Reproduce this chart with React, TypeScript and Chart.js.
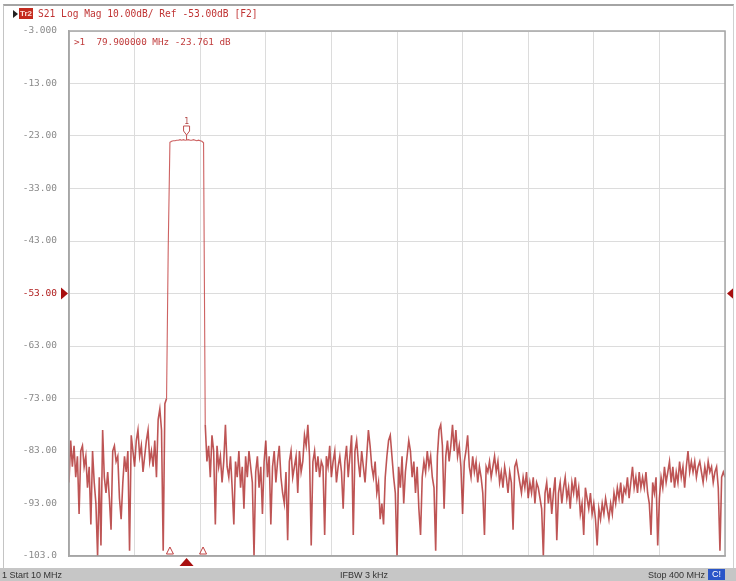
import React, { useEffect, useRef } from "react";
import { Chart, registerables } from "chart.js";

Chart.register(...registerables);

// Sweep definition (MHz)
const START_MHZ = 10;
const STOP_MHZ = 400;
const STEP_MHZ = 1;
const X_DIV_MHZ = 39;

// Y scale (dB)
const Y_TOP_DB = -3;
const Y_BOTTOM_DB = -103;
const Y_DIV_DB = 10;
const REF_LEVEL_DB = -53;

// Marker
const MARKER_MHZ = 79.9;
const MARKER_DB = -23.761;
const BAND_EDGES_MHZ = [70, 89.7];

// S21 trace, 10..68 MHz (stopband below)
const LOW_STOP_DB = [
  -89, -81, -86, -82, -88, -84, -95, -83, -82, -86,
  -84, -90, -86, -97, -83, -89, -93, -103, -88, -101,
  -79, -88, -91, -87, -92, -98, -83, -82, -85, -84,
  -92, -96, -89, -84, -87, -83, -102, -80, -83, -86,
  -81, -79, -84, -82, -87, -84, -81, -79, -85, -83,
  -86, -81, -88, -77, -75, -79, -102, -74, -73,
];

// 69..90 MHz (passband)
const PASS_DB = [
  -44, -24.2, -24.0, -23.9, -23.9, -23.8, -23.8, -23.7, -23.8, -23.7, -23.8,
  -23.76, -23.7, -23.8, -23.8, -23.7, -23.8, -23.9, -23.8, -23.9, -24.0, -24.3,
];

// 91..400 MHz (stopband above)
const HIGH_STOP_DB = [
  -78, -85, -82, -88, -80, -83, -97, -82, -86, -84,
  -89, -85, -78, -86, -88, -84, -90, -97, -85, -88,
  -83, -90, -86, -94, -84, -88, -83, -86, -89, -103,
  -87, -84, -90, -86, -95, -85, -81, -88, -84, -97,
  -86, -83, -89, -85, -82, -88, -91, -93, -87, -100,
  -85, -83, -88, -86, -84, -91, -83, -87, -85, -80,
  -82, -78, -84, -101, -85, -83, -87, -84, -88, -85,
  -86, -99, -84, -86, -82, -88, -85, -83, -89, -86,
  -84, -87, -94, -85, -82, -88, -84, -80, -99, -83,
  -81, -85, -88, -83, -86, -89, -84, -79, -82, -86,
  -88, -85, -91, -89, -96, -93, -97, -88, -84, -81,
  -80, -84, -88, -91, -103, -86, -90, -84, -93, -87,
  -84, -81, -83, -88, -85, -91, -86, -94, -99, -88,
  -85, -87, -83, -86, -84, -88, -90, -102, -84, -79,
  -78, -82, -94, -84, -81, -85, -82, -78, -83, -79,
  -84, -82, -86, -95, -85, -83, -80, -86, -88, -84,
  -87, -85, -89, -86, -88, -91, -99, -86, -87, -85,
  -88, -86, -84, -87, -85, -89, -87, -90, -86, -88,
  -91, -87, -89, -98, -86, -85, -87, -89, -91, -88,
  -90, -87, -92, -89, -91, -88, -93, -89, -90, -92,
  -94, -103, -91, -89, -93, -90, -95, -91, -88, -100,
  -91, -89, -93, -90, -88, -92, -90, -94, -89, -91,
  -88, -92, -90, -95, -93, -99, -90, -92, -94, -91,
  -95, -93, -96, -101, -94, -96, -93, -95, -92, -94,
  -96, -93, -95, -91, -93, -90, -92, -89, -93, -90,
  -91, -88, -92, -89, -86, -90, -88, -91, -87, -90,
  -88, -90, -87, -91, -93, -99, -89, -91, -88, -101,
  -92, -88, -90, -86, -89, -87, -85, -89, -86, -90,
  -87, -89, -85, -88, -86, -90, -86, -83, -87, -85,
  -87, -85, -88, -86, -85, -87, -89, -86, -88, -85,
  -87, -86, -89, -87, -86, -90, -102, -88, -87, -88,
];

const TRACE_DB = [...LOW_STOP_DB, ...PASS_DB, ...HIGH_STOP_DB];

const MONO = "'DejaVu Sans Mono', monospace";
const SANS = "'Liberation Sans', Arial, sans-serif";

const overlayPlugin = {
  id: "vnaOverlay",
  afterDatasetsDraw(chart: any) {
    const { ctx, chartArea: a, scales } = chart;
    const x = scales.x;
    const y = scales.y;
    ctx.save();
    // plot frame
    ctx.strokeStyle = "#a6a6a6";
    ctx.lineWidth = 1.5;
    ctx.strokeRect(a.left, a.top, a.right - a.left, a.bottom - a.top);

    // reference level triangles
    const ry = y.getPixelForValue(REF_LEVEL_DB);
    ctx.fillStyle = "#a80f0f";
    ctx.beginPath();
    ctx.moveTo(a.left - 8, ry - 6);
    ctx.lineTo(a.left - 8, ry + 6);
    ctx.lineTo(a.left - 1, ry);
    ctx.closePath();
    ctx.fill();
    ctx.beginPath();
    ctx.moveTo(a.right + 9, ry - 6);
    ctx.lineTo(a.right + 9, ry + 6);
    ctx.lineTo(a.right + 2, ry);
    ctx.closePath();
    ctx.fill();

    // marker position triangle below axis
    const mx = x.getPixelForValue(MARKER_MHZ);
    ctx.beginPath();
    ctx.moveTo(mx - 7, a.bottom + 10);
    ctx.lineTo(mx + 7, a.bottom + 10);
    ctx.lineTo(mx, a.bottom + 2);
    ctx.closePath();
    ctx.fill();

    // band edge open triangles
    ctx.strokeStyle = "#c04040";
    ctx.lineWidth = 1;
    for (const f of BAND_EDGES_MHZ) {
      const bx = x.getPixelForValue(f);
      ctx.beginPath();
      ctx.moveTo(bx - 3.5, a.bottom - 2);
      ctx.lineTo(bx + 3.5, a.bottom - 2);
      ctx.lineTo(bx, a.bottom - 9);
      ctx.closePath();
      ctx.stroke();
    }

    // marker 1 symbol above the trace
    const my = y.getPixelForValue(MARKER_DB);
    ctx.strokeStyle = "#c05050";
    ctx.beginPath();
    ctx.moveTo(mx - 3, my - 14);
    ctx.lineTo(mx + 3, my - 14);
    ctx.lineTo(mx + 3, my - 9);
    ctx.lineTo(mx, my - 5);
    ctx.lineTo(mx - 3, my - 9);
    ctx.closePath();
    ctx.stroke();
    ctx.beginPath();
    ctx.moveTo(mx, my - 5);
    ctx.lineTo(mx, my);
    ctx.stroke();
    ctx.fillStyle = "#b04040";
    ctx.font = `8px ${MONO}`;
    ctx.textAlign = "center";
    ctx.textBaseline = "middle";
    ctx.fillText("1", mx, my - 18);
    ctx.restore();
  },
};

const isPassSegment = (c: any) =>
  c.p0 && c.p1 && (c.p0.parsed.y > -60 || c.p1.parsed.y > -60);

export default function App() {
  const canvasRef = useRef<HTMLCanvasElement | null>(null);

  useEffect(() => {
    const canvas = canvasRef.current;
    if (!canvas) return;
    const points = TRACE_DB.map((db, i) => ({ x: START_MHZ + i * STEP_MHZ, y: db }));
    const chart = new Chart(canvas, {
      type: "line",
      data: {
        datasets: [
          {
            data: points,
            borderColor: "rgba(168, 28, 28, 0.75)",
            borderWidth: 1.6,
            pointRadius: 0,
            tension: 0,
            fill: false,
            segment: {
              borderWidth: (c: any) => (isPassSegment(c) ? 1.1 : undefined),
              borderColor: (c: any) => (isPassSegment(c) ? "rgba(196, 70, 70, 0.85)" : undefined),
            },
          },
        ],
      },
      options: {
        responsive: false,
        animation: false,
        events: [],
        layout: { padding: { left: 0, right: 11, top: 31, bottom: 25 } },
        plugins: { legend: { display: false }, tooltip: { enabled: false } },
        scales: {
          x: {
            type: "linear",
            min: START_MHZ,
            max: STOP_MHZ,
            ticks: { display: false, stepSize: X_DIV_MHZ },
            grid: { color: "#dcdcdc", drawTicks: false, tickLength: 0, lineWidth: 1 },
            border: { display: true, color: "#a6a6a6", width: 1.5 },
            afterFit: (s: any) => {
              s.height = 0;
            },
          },
          y: {
            type: "linear",
            min: Y_BOTTOM_DB,
            max: Y_TOP_DB,
            ticks: {
              stepSize: Y_DIV_DB,
              padding: 12,
              color: (c: any) => (c.tick && c.tick.value === REF_LEVEL_DB ? "#b02020" : "#8a8a8a"),
              font: { family: MONO, size: 9.5 },
              callback: (v: any) => Number(v).toPrecision(4),
            },
            grid: { color: "#dcdcdc", drawTicks: false, tickLength: 0, lineWidth: 1 },
            border: { display: true, color: "#a6a6a6", width: 1.5 },
            afterFit: (s: any) => {
              s.width = 69;
            },
          },
        },
      },
      plugins: [overlayPlugin],
    } as any);
    return () => chart.destroy();
  }, []);

  return (
    <div
      style={{
        position: "absolute",
        left: 0,
        top: 0,
        width: 736,
        height: 581,
        background: "#ffffff",
        overflow: "hidden",
      }}
    >
      <canvas
        ref={canvasRef}
        width={736}
        height={581}
        style={{ position: "absolute", left: 0, top: 0, width: 736, height: 581 }}
      />
      {/* outer frame */}
      <div
        style={{
          position: "absolute",
          left: 3,
          top: 4,
          width: 731,
          height: 564,
          borderTop: "2px solid #a4a4a4",
          borderLeft: "1px solid #c4c4c4",
          borderRight: "1px solid #d0d0d0",
          boxSizing: "border-box",
          pointerEvents: "none",
        }}
      />
      {/* header */}
      <div
        style={{
          position: "absolute",
          left: 13,
          top: 10,
          width: 0,
          height: 0,
          borderTop: "4px solid transparent",
          borderBottom: "4px solid transparent",
          borderLeft: "5px solid #222",
        }}
      />
      <div
        style={{
          position: "absolute",
          left: 19,
          top: 8,
          width: 14,
          height: 11,
          background: "#c42a1e",
          color: "#ffe0d8",
          fontFamily: SANS,
          fontWeight: "bold",
          fontSize: 8,
          lineHeight: "11px",
          textAlign: "center",
        }}
      >
        Tr2
      </div>
      <div
        style={{
          position: "absolute",
          left: 38,
          top: 7,
          fontFamily: MONO,
          fontSize: 9.6,
          lineHeight: "13px",
          color: "#c03434",
          whiteSpace: "pre",
        }}
      >
        S21 Log Mag 10.00dB/ Ref -53.00dB [F2]
      </div>
      {/* marker readout */}
      <div
        style={{
          position: "absolute",
          left: 74,
          top: 36,
          fontFamily: MONO,
          fontSize: 9.3,
          lineHeight: "12px",
          color: "#c03c3c",
          whiteSpace: "pre",
        }}
      >
        {">1  79.900000 MHz -23.761 dB"}
      </div>
      {/* status bar */}
      <div
        style={{
          position: "absolute",
          left: 0,
          top: 568,
          width: 736,
          height: 13,
          background: "#c6c6c6",
          fontFamily: SANS,
          fontSize: 9,
          lineHeight: "13px",
          color: "#333",
          whiteSpace: "pre",
        }}
      >
        <span style={{ position: "absolute", left: 2, top: 1 }}>1 Start 10 MHz</span>
        <span style={{ position: "absolute", left: 340, top: 1 }}>IFBW 3 kHz</span>
        <span style={{ position: "absolute", left: 648, top: 1 }}>Stop 400 MHz</span>
        <span
          style={{
            position: "absolute",
            left: 708,
            top: 1,
            width: 17,
            height: 11,
            background: "#2a55c8",
            color: "#fff",
            fontSize: 9,
            lineHeight: "11px",
            textAlign: "center",
          }}
        >
          C!
        </span>
      </div>
    </div>
  );
}
